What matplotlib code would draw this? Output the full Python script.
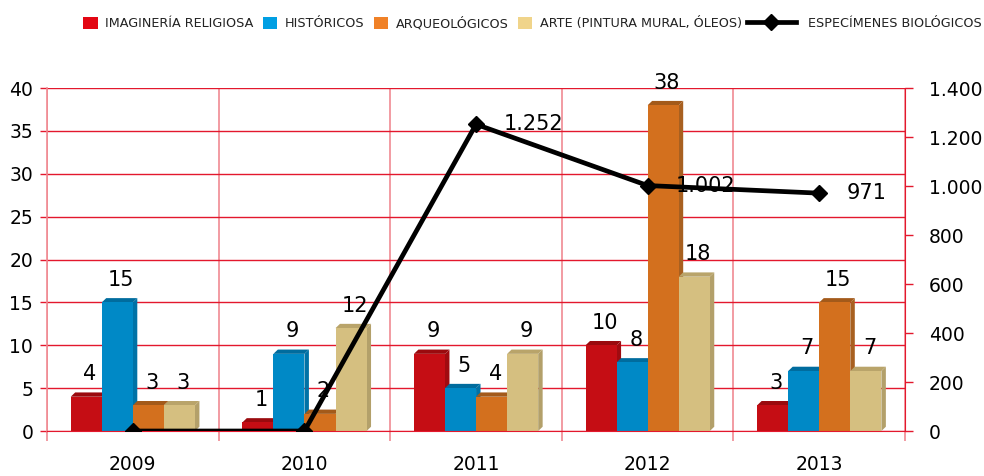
import matplotlib
matplotlib.use("Agg")
from matplotlib import pyplot as plt
from matplotlib.patches import Polygon, Patch
from matplotlib.lines import Line2D
from matplotlib.ticker import FuncFormatter, MultipleLocator, FixedLocator

years = ["2009", "2010", "2011", "2012", "2013"]
imagineria = [4, 1, 9, 10, 3]
historicos = [15, 9, 5, 8, 7]
arqueologicos = [3, 2, 4, 38, 15]
arte = [3, 12, 9, 18, 7]
especimenes = [0, 0, 1252, 1002, 971]

series_names = ["IMAGINERÍA RELIGIOSA", "HISTÓRICOS", "ARQUEOLÓGICOS",
                "ARTE (PINTURA MURAL, ÓLEOS)"]
line_name = "ESPECÍMENES BIOLÓGICOS"

# front, top, side colours of each pseudo 3d bar
front_cols = ["#C50D14", "#0089C6", "#D3701E", "#D5BF80"]
top_cols = ["#9A0A0E", "#006C9E", "#A35A1A", "#B9A46A"]
side_cols = ["#A00B10", "#0072A6", "#A86020", "#B3A06A"]
legend_cols = ["#E30613", "#009FE3", "#F08127", "#F0D48A"]

grid_red = "#E3182D"
light_red = "#F08A92"

def fmt_thousands(v):
    return f"{int(round(v)):,}".replace(",", ".")

fig = plt.figure(figsize=(9.84, 4.76), dpi=100)
ax = fig.add_axes([0.0478, 0.0945, 0.872, 0.7205])
ax2 = ax.twinx()

n = len(years)
w = 0.181
dx = 0.026   # depth of the bars in category units
dy = 0.5     # depth of the bars in value units

all_series = [imagineria, historicos, arqueologicos, arte]
for j, vals in enumerate(all_series):
    z = 2 + j * 0.1
    for i, v in enumerate(vals):
        x0 = i + (j - 2) * w
        x1 = x0 + w
        side = Polygon([(x1, 0), (x1 + dx, dy), (x1 + dx, v + dy), (x1, v)],
                       closed=True, facecolor=side_cols[j], edgecolor="none", zorder=z)
        top = Polygon([(x0, v), (x1, v), (x1 + dx, v + dy), (x0 + dx, v + dy)],
                      closed=True, facecolor=top_cols[j], edgecolor="none", zorder=z)
        ax.add_patch(side)
        ax.add_patch(top)
        ax.annotate(str(v), (x0 + w / 2 + dx / 2, v + dy), xytext=(1, 6),
                    textcoords="offset points", ha="center", va="bottom",
                    fontsize=15, color="black", zorder=5)
    xs = [i + (j - 2) * w for i in range(n)]
    ax.bar(xs, vals, width=w, align="edge", color=front_cols[j],
           edgecolor="none", zorder=z + 0.05)

ax.set_xlim(-0.5, n - 0.5)
ax.set_ylim(0, 40)
ax.yaxis.set_major_locator(MultipleLocator(5))
ax.set_xticks(range(n))
ax.set_xticklabels(years)
ax.xaxis.set_minor_locator(FixedLocator([i - 0.5 for i in range(n + 1)]))
ax.set_axisbelow(True)
ax.grid(axis="y", which="major", color=grid_red, lw=1.0)
ax.grid(axis="x", which="minor", color=light_red, lw=1.2)
ax.tick_params(axis="x", which="major", length=0, pad=17, labelsize=13.5)
ax.tick_params(axis="x", which="minor", length=7, color=light_red, width=1.2)
ax.tick_params(axis="y", length=5, color=grid_red, width=1.0, pad=5, labelsize=13.5)

for s in ["top"]:
    ax.spines[s].set_visible(False)
    ax2.spines[s].set_visible(False)
ax.spines["left"].set_color(light_red)
ax.spines["left"].set_linewidth(1.2)
ax.spines["bottom"].set_color(grid_red)
ax2.spines["left"].set_visible(False)
ax2.spines["bottom"].set_visible(False)
ax.spines["right"].set_visible(False)
ax2.spines["right"].set_color(grid_red)

# line on the secondary axis
ax2.set_ylim(0, 1400)
ax2.yaxis.set_major_locator(MultipleLocator(200))
ax2.yaxis.set_major_formatter(FuncFormatter(lambda v, p: fmt_thousands(v)))
ax2.tick_params(axis="y", length=6, color=grid_red, width=1.0, pad=11, labelsize=13.5)
ax2.plot(range(n), especimenes, color="black", lw=3.4, marker="D", ms=8.5,
         mfc="black", mec="black", zorder=6)
for i, v in enumerate(especimenes):
    if v > 0:
        ax2.annotate(fmt_thousands(v), (i, v), xytext=(20, 0),
                     textcoords="offset points", ha="left", va="center",
                     fontsize=15, color="black", zorder=7)

leg_font = {"family": "DejaVu Sans", "size": 9.2}
bar_handles = [Patch(facecolor=c, edgecolor="none") for c in legend_cols]
leg1 = fig.legend(bar_handles, series_names, loc="center right",
                  bbox_to_anchor=(742 / 984, 0.951), ncol=4, frameon=False,
                  prop=leg_font, handlelength=1.1, handleheight=1.1,
                  handletextpad=0.6, columnspacing=0.75, borderpad=0,
                  borderaxespad=0, labelcolor="#222222")
line_handle = Line2D([], [], color="black", lw=3.4, marker="D", ms=8.5)
leg2 = fig.legend([line_handle], [line_name], loc="center left",
                  bbox_to_anchor=(747 / 984, 0.951), frameon=False,
                  prop=leg_font, handlelength=3.8, handletextpad=1.0,
                  borderpad=0, borderaxespad=0, labelcolor="#222222")

fig.savefig("out.png", dpi=100)
